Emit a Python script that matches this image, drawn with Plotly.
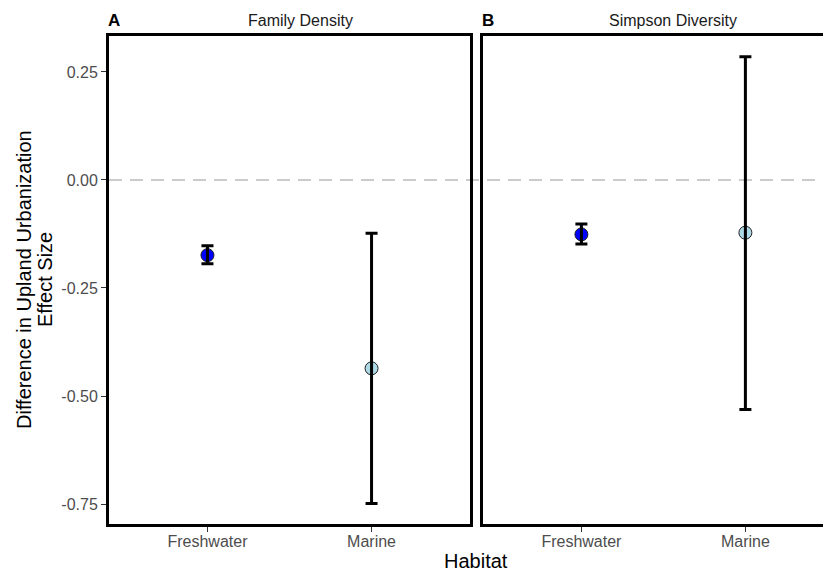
import plotly.graph_objects as go

habitats = ["Freshwater", "Marine"]
panel_titles = ["Family Density", "Simpson Diversity"]
panel_tags = ["A", "B"]
point_colors = ["#0000FF", "#ADD8E6"]

# Family Density (panel A)
fd_mean = [-0.174, -0.436]
fd_low = [-0.194, -0.749]
fd_high = [-0.152, -0.123]

# Simpson Diversity (panel B)
sd_mean = [-0.126, -0.122]
sd_low = [-0.148, -0.531]
sd_high = [-0.102, 0.285]

y_ticks = [0.25, 0.0, -0.25, -0.5, -0.75]
y_ticktext = ["0.25", "0.00", "-0.25", "-0.50", "-0.75"]
y_title_lines = ["Difference in Upland Urbanization", "Effect Size"]
x_title = "Habitat"

FONT = "Liberation Sans, Arial, sans-serif"
W, H = 831, 571
OFF = 8  # page body margin offset
ML, MR, MT, MB = 109 - OFF, OFF, 36 - OFF, H - (524 - OFF)

fig = go.Figure()

panels = [(fd_mean, fd_low, fd_high, "x", "y"), (sd_mean, sd_low, sd_high, "x2", "y2")]
for mean, low, high, xa, ya in panels:
    fig.add_trace(go.Scatter(
        x=habitats, y=mean, mode="markers", xaxis=xa, yaxis=ya,
        marker=dict(size=13, color=point_colors, line=dict(color="#222222", width=1)),
        showlegend=False, hoverinfo="skip"))
    fig.add_trace(go.Scatter(
        x=habitats, y=mean, mode="markers", xaxis=xa, yaxis=ya,
        marker=dict(size=1, opacity=0),
        error_y=dict(type="data", symmetric=False,
                     array=[h - m for h, m in zip(high, mean)],
                     arrayminus=[m - l for m, l in zip(mean, low)],
                     color="black", thickness=3, width=6),
        showlegend=False, hoverinfo="skip"))

yrange = [-0.7963, 0.3333]
axis_common = dict(showgrid=False, zeroline=False, showline=True, linecolor="black", linewidth=3,
                   ticks="outside", ticklen=5, tickwidth=1, tickcolor="#333333",
                   tickfont=dict(family=FONT, size=16, color="#4D4D4D"))

fig.update_layout(
    width=W, height=H,
    margin=dict(l=ML, r=MR, t=MT, b=MB),
    paper_bgcolor="white", plot_bgcolor="white",
    font=dict(family=FONT, color="black"),
    xaxis=dict(domain=[0, 0.5], range=[-0.6, 1.6], mirror=True, anchor="y",
               type="category", ticklabelstandoff=-4, **axis_common),
    xaxis2=dict(domain=[0.518, 1.0], range=[-0.6, 1.522], mirror=True, anchor="y2",
                type="category", ticklabelstandoff=-4, **axis_common),
    yaxis=dict(range=yrange, tickvals=y_ticks, ticktext=y_ticktext, mirror=True, anchor="x",
               **axis_common),
    yaxis2=dict(range=yrange, tickvals=y_ticks, showticklabels=False, ticks="", anchor="x2",
                showgrid=False, zeroline=False, showline=True, linecolor="black", linewidth=3),
)

# dashed reference line at zero across both panels
fig.add_shape(type="line", xref="paper", yref="y", x0=0, x1=1, y0=0, y1=0,
              line=dict(color="#BBBBBB", width=1.5, dash="13px,8px"), layer="below")

def px_x(p):
    return (p - OFF - ML) / (W - ML - MR)

def px_y(p):
    return 1 - (p - OFF - MT) / (H - MT - MB)

def add_text(text, x, y, size, color="black", xanchor="center", angle=0):
    fig.add_annotation(text=text, x=px_x(x), y=px_y(y), xref="paper", yref="paper",
                       showarrow=False, xanchor=xanchor, yanchor="middle", textangle=angle,
                       font=dict(family=FONT, size=size, color=color))

# panel titles and tags
add_text(panel_titles[0], 300, 21, 16, "#1a1a1a")
add_text(panel_titles[1], 673, 21, 16, "#1a1a1a")
add_text("<b>" + panel_tags[0] + "</b>", 106, 21, 17, xanchor="left")
add_text("<b>" + panel_tags[1] + "</b>", 480, 21, 17, xanchor="left")
# axis titles
add_text(x_title, 476, 561, 20)
add_text(y_title_lines[0], 24, 280, 20, angle=-90)
add_text(y_title_lines[1], 45, 280, 20, angle=-90)

fig.write_html("out.html")
